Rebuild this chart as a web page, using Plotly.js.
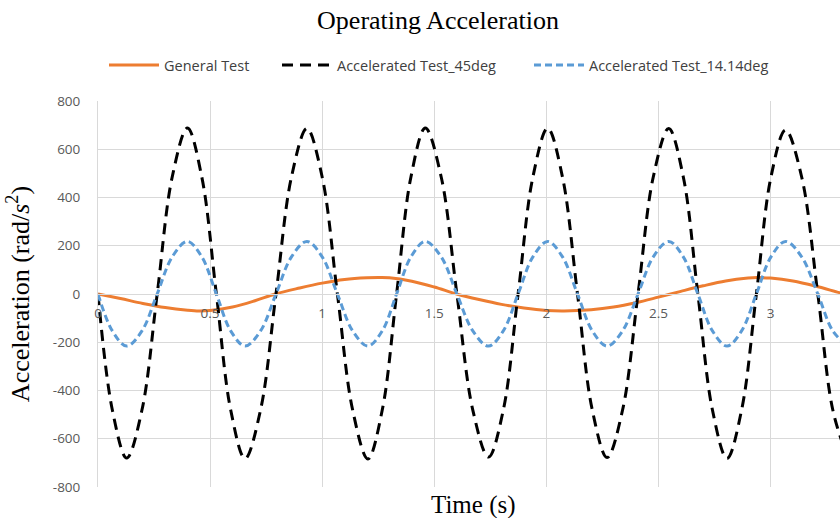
<!DOCTYPE html>
<html>
<head>
<meta charset="utf-8">
<script src="https://cdn.plot.ly/plotly-3.0.1.min.js"></script>
<style>html,body{margin:0;padding:0;background:#fff;}#chart{width:840px;height:518px;}</style>
</head>
<body>
<div id="chart"></div>
<script>
// ---- data ----
var seriesNames = ["General Test", "Accelerated Test_45deg", "Accelerated Test_14.14deg"];

var timeGeneral = [0, 0.1, 0.2, 0.3, 0.4, 0.45, 0.5, 0.6, 0.7, 0.79, 0.9, 1.0, 1.1, 1.2, 1.25, 1.3, 1.4, 1.5, 1.6,
  1.7, 1.8, 1.9, 2.0, 2.08, 2.2, 2.3, 2.4, 2.5, 2.6, 2.7, 2.8, 2.9, 2.94, 3.0, 3.1, 3.2, 3.31, 3.35];
var accelGeneral = [0, -19, -39, -56, -67, -70, -68, -54, -28, 0, 25, 45, 60, 67, 68, 67, 53, 29, 0,
  -23, -43, -58, -68, -70, -65, -54, -36, -13, 11, 34, 54, 66, 68, 66, 54, 33, 5, -4];

var timeAccel = [0, 0.064, 0.128, 0.196, 0.264, 0.331, 0.399, 0.463, 0.528, 0.592, 0.656, 0.725, 0.794, 0.863,
  0.932, 1.000, 1.068, 1.136, 1.204, 1.268, 1.332, 1.396, 1.460, 1.531, 1.601, 1.672, 1.742, 1.808, 1.874,
  1.940, 2.006, 2.072, 2.139, 2.205, 2.271, 2.340, 2.409, 2.477, 2.546, 2.611, 2.676, 2.741, 2.806, 2.871,
  2.937, 3.002, 3.067, 3.139, 3.211, 3.278, 3.345];
var accel45 = [0, -481, -680, -481, 0, 485, 688, 485, 0, -481, -682, -481, 0, 485,
  686, 485, 0, -481, -684, -481, 0, 485, 688, 485, 0, -481, -676, -481, 0,
  485, 687, 485, 0, -481, -678, -481, 0, 485, 686, 485, 0, -481, -682, -481,
  0, 485, 680, 485, 0, -481, -680];
var accel1414 = [0, -153, -216, -153, 0, 154, 218, 154, 0, -153, -216, -153, 0, 154,
  218, 154, 0, -153, -216, -153, 0, 154, 218, 154, 0, -153, -216, -153, 0,
  154, 218, 154, 0, -153, -216, -153, 0, 154, 218, 154, 0, -153, -216, -153,
  0, 154, 218, 154, 0, -153, -216];

var xTickVals = [0, 0.5, 1, 1.5, 2, 2.5, 3];
var xTickText = ["0", "0.5", "1", "1.5", "2", "2.5", "3"];
var yTickVals = [-800, -600, -400, -200, 0, 200, 400, 600, 800];
var yTickText = ["-800", "-600", "-400", "-200", "0", "200", "400", "600", "800"];

var chartTitle = "Operating Acceleration";
var xTitle = "Time (s)";
var yTitle = "Acceleration (rad/<i>s</i><sup>2</sup>)";

// ---- traces ----
var traces = [
  {x: timeGeneral, y: accelGeneral, name: seriesNames[0], type: "scatter", mode: "lines",
   line: {color: "#ED7D31", width: 3, shape: "spline", smoothing: 1}, legend: "legend"},
  {x: timeAccel, y: accel45, name: seriesNames[1], type: "scatter", mode: "lines",
   line: {color: "#000000", width: 3, dash: "11px,7px", shape: "spline", smoothing: 1}, legend: "legend2"},
  {x: timeAccel, y: accel1414, name: seriesNames[2], type: "scatter", mode: "lines",
   line: {color: "#5B9BD5", width: 3, dash: "7px,4px", shape: "spline", smoothing: 1}, legend: "legend3"}
];

var legendFont = {family: "Open Sans, sans-serif", size: 14.5, color: "#404040"};
function mkLegend(xpx) {
  return {orientation: "h", xref: "container", yref: "container", x: xpx / 840, y: 1 - 65 / 518,
    xanchor: "left", yanchor: "middle", font: legendFont, bgcolor: "rgba(0,0,0,0)",
    itemwidth: 50, borderwidth: 0};
}

var gridCol = "#d9d9d9";
var tickFont = {family: "Open Sans, sans-serif", size: 13.5, color: "#595959"};
var serif = "Liberation Serif, Times New Roman, serif";

var layout = {
  width: 840, height: 518,
  margin: {l: 98, r: 0, t: 101, b: 31, pad: 0},
  paper_bgcolor: "#ffffff", plot_bgcolor: "#ffffff",
  showlegend: true,
  title: {text: chartTitle, font: {family: serif, size: 26, color: "#000"},
          xref: "container", x: 438 / 840, xanchor: "center", yref: "container", y: 1 - 20 / 518, yanchor: "middle"},
  xaxis: {range: [0, 3.31], tickvals: xTickVals, ticktext: xTickText, showgrid: true, gridcolor: gridCol, gridwidth: 1,
          zeroline: false, showline: true, linecolor: gridCol, linewidth: 1, anchor: "free", position: 0.5,
          ticks: "", ticklabelstandoff: 7, tickfont: tickFont, fixedrange: true, automargin: false},
  yaxis: {range: [-800, 800], tickvals: yTickVals, ticktext: yTickText, showgrid: true, gridcolor: gridCol, gridwidth: 1,
          zeroline: false, showline: true, linecolor: gridCol, linewidth: 1, ticks: "", ticklabelstandoff: 14,
          tickfont: tickFont, automargin: false,
          title: {text: yTitle, font: {family: serif, size: 26, color: "#000"}, standoff: 15}},
  legend: mkLegend(104),
  legend2: mkLegend(277),
  legend3: mkLegend(529),
  annotations: [
    {text: xTitle, xref: "paper", yref: "paper", x: (474 - 98) / 742, y: -18 / 386, xanchor: "center", yanchor: "middle",
     showarrow: false, font: {family: serif, size: 25, color: "#000"}}
  ]
};

Plotly.newPlot("chart", traces, layout, {staticPlot: true, displayModeBar: false});
</script>
</body>
</html>
